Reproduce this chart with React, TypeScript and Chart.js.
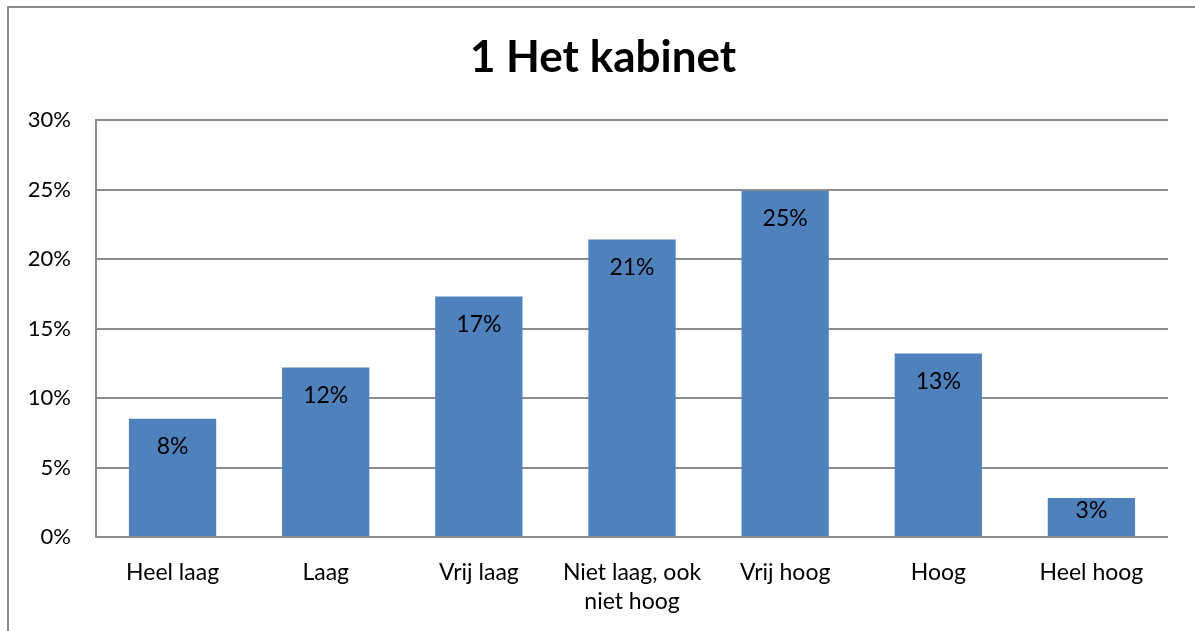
import React, { useEffect, useRef } from "react";
import { Chart, registerables } from "chart.js";

Chart.register(...registerables);

const titleText = "1 Het kabinet";
const categories: (string | string[])[] = [
  "Heel laag",
  "Laag",
  "Vrij laag",
  ["Niet laag, ook", "niet hoog"],
  "Vrij hoog",
  "Hoog",
  "Heel hoog",
];
const values = [8.5, 12.2, 17.3, 21.4, 24.9, 13.2, 2.8];
const dataLabels = ["8%", "12%", "17%", "21%", "25%", "13%", "3%"];
const yTicksMax = 30;
const yTickStep = 5;

const FONT = "Lato, 'Open Sans', sans-serif";
const GRID = "#8c8c8c";

const decorPlugin = {
  id: "decor",
  afterDraw(chart: any) {
    const ctx = chart.ctx;
    ctx.save();
    // frame (top + left border of the chart box)
    ctx.strokeStyle = "#8a8a8a";
    ctx.lineWidth = 2;
    ctx.beginPath();
    ctx.moveTo(8, chart.height);
    ctx.lineTo(8, 7);
    ctx.lineTo(chart.width, 7);
    ctx.stroke();
    // title
    ctx.fillStyle = "#000";
    ctx.font = `bold 44px ${FONT}`;
    ctx.textAlign = "center";
    ctx.textBaseline = "middle";
    ctx.fillText(titleText, 603, 58);
    // data labels (inside end)
    const meta = chart.getDatasetMeta(0);
    ctx.font = `23px ${FONT}`;
    meta.data.forEach((bar: any, i: number) => {
      const h = bar.base - bar.y;
      const off = h < 60 ? 12 : 28;
      ctx.fillText(dataLabels[i], bar.x, bar.y + off);
    });
    ctx.restore();
  },
};

export default function App() {
  const ref = useRef<HTMLCanvasElement>(null);
  useEffect(() => {
    if (!ref.current) return;
    const chart = new Chart(ref.current, {
      type: "bar",
      data: {
        labels: categories,
        datasets: [
          {
            data: values,
            backgroundColor: "#4F81BD",
            borderWidth: 0,
            barPercentage: 0.57,
            categoryPercentage: 1,
          },
        ],
      },
      options: {
        responsive: false,
        animation: false,
        layout: { padding: { left: 0, right: 27, top: 120, bottom: 0 } },
        plugins: {
          legend: { display: false },
          title: { display: false },
          tooltip: { enabled: false },
        },
        scales: {
          x: {
            grid: { display: false, drawTicks: false },
            border: { display: false },
            ticks: {
              color: "#000",
              padding: 21,
              maxRotation: 0,
              autoSkip: false,
              font: { family: FONT, size: 23, lineHeight: 1.27 },
            },
            afterFit: (scale: any) => {
              scale.height = 94;
            },
          },
          y: {
            min: 0,
            max: yTicksMax,
            grid: { color: GRID, lineWidth: 2, drawTicks: false },
            border: { display: true, color: GRID, width: 2 },
            ticks: {
              stepSize: yTickStep,
              color: "#000",
              padding: 25,
              font: { family: FONT, size: 22 },
              callback: (v: any) => v + "%",
            },
            afterFit: (scale: any) => {
              scale.width = 96;
            },
          },
        },
      },
      plugins: [decorPlugin],
    });
    return () => chart.destroy();
  }, []);
  return (
    <div style={{ position: "absolute", left: 0, top: 0, width: 1195, height: 631, background: "#fff" }}>
      <canvas ref={ref} width={1195} height={631} />
    </div>
  );
}
